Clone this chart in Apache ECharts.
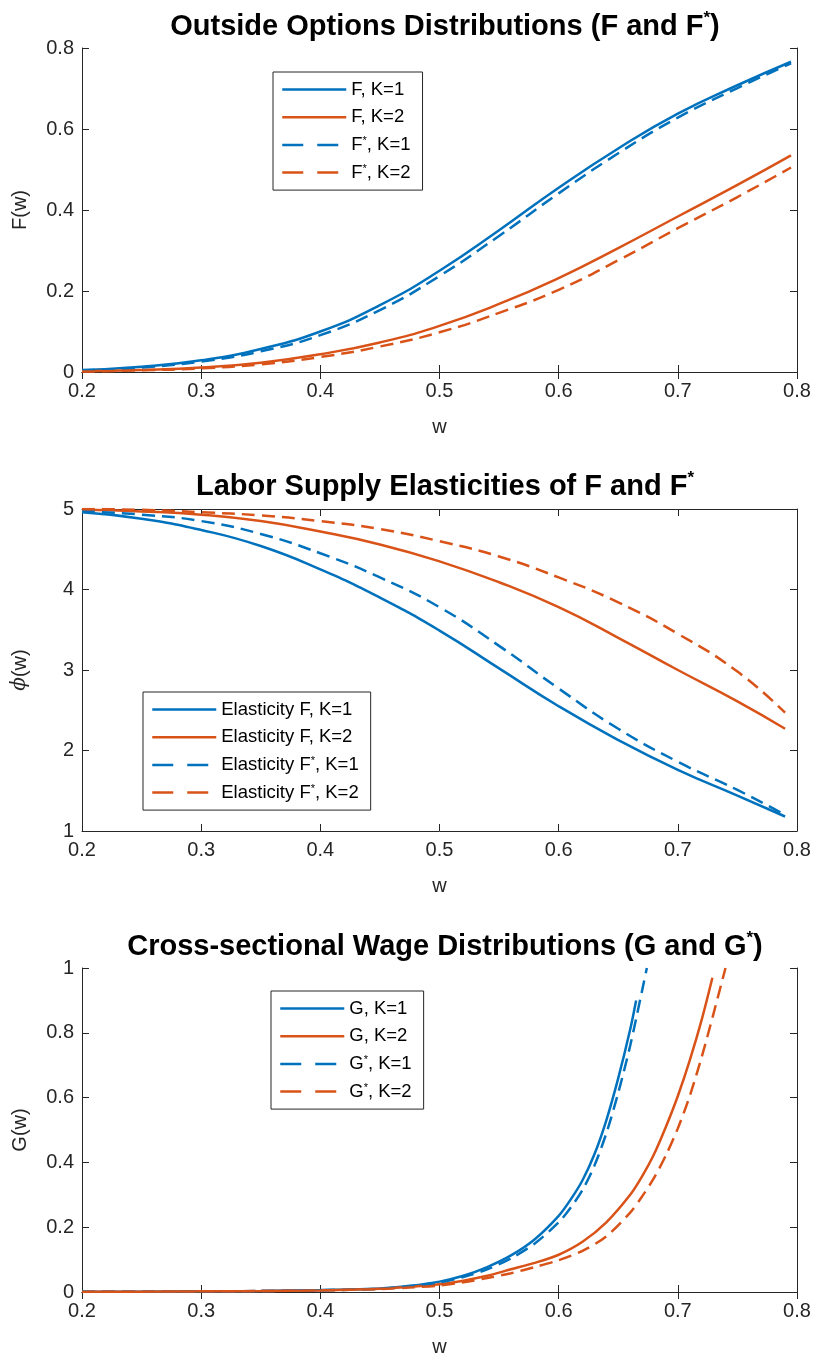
<!DOCTYPE html>
<html><head><meta charset="utf-8">
<script src="https://cdn.jsdelivr.net/npm/echarts@6/dist/echarts.min.js"></script>
<style>html,body{margin:0;padding:0;background:#fff}#c{width:814px;height:1360px}</style>
</head><body><div id="c"></div>
<script>
// ---------- tick labels ----------
const xTickLabels = ['0.2','0.3','0.4','0.5','0.6','0.7','0.8'];
const y1TickLabels = ['0','0.2','0.4','0.6','0.8'];
const y2TickLabels = ['1','2','3','4','5'];
const y3TickLabels = ['0','0.2','0.4','0.6','0.8','1'];

// ---------- panel 1: outside options distributions ----------
const w1 = [0.2,0.25,0.3,0.35,0.4,0.45,0.5,0.55,0.6,0.65,0.7,0.75,0.795];
const F_K1     = [0.005,0.013,0.029,0.057,0.100,0.165,0.250,0.350,0.455,0.552,0.638,0.708,0.766];
const F_K2     = [0.002,0.005,0.011,0.023,0.044,0.073,0.114,0.168,0.232,0.306,0.384,0.462,0.535];
const Fs_K1    = [0.004,0.011,0.026,0.051,0.091,0.153,0.237,0.336,0.441,0.540,0.628,0.701,0.762];
const Fs_K2    = [0.001,0.004,0.009,0.019,0.037,0.063,0.098,0.146,0.203,0.276,0.355,0.432,0.505];

// ---------- panel 2: labor supply elasticities ----------
const w2 = [0.2,0.25,0.3,0.35,0.4,0.45,0.5,0.55,0.6,0.65,0.7,0.75,0.79];
const E_K1   = [4.96,4.88,4.74,4.54,4.25,3.90,3.49,3.02,2.55,2.13,1.76,1.44,1.18];
const E_K2   = [4.99,4.97,4.93,4.85,4.72,4.56,4.35,4.09,3.78,3.40,3.00,2.61,2.27];
const Es_K1  = [4.97,4.93,4.85,4.69,4.45,4.15,3.78,3.30,2.77,2.27,1.86,1.51,1.20];
const Es_K2  = [5.00,4.99,4.96,4.92,4.85,4.75,4.60,4.41,4.15,3.84,3.45,2.98,2.47];

// ---------- panel 3: cross-sectional wage distributions ----------
const wG_K1  = [0.2,0.25,0.3,0.35,0.4,0.45,0.475,0.5,0.52,0.54,0.56,0.58,0.6,0.61,0.62,0.63,0.64,0.65,0.66,0.665];
const G_K1   = [0.0005,0.001,0.002,0.003,0.006,0.011,0.019,0.032,0.05,0.077,0.113,0.163,0.235,0.285,0.345,0.425,0.53,0.66,0.81,0.9];
const wGs_K1 = [0.2,0.25,0.3,0.35,0.4,0.45,0.475,0.5,0.52,0.54,0.56,0.58,0.6,0.61,0.62,0.63,0.64,0.65,0.66,0.67,0.674];
const Gs_K1  = [0.0004,0.001,0.002,0.003,0.005,0.010,0.017,0.030,0.046,0.070,0.104,0.150,0.215,0.26,0.315,0.39,0.49,0.615,0.76,0.93,1.0];
const wG_K2  = [0.2,0.25,0.3,0.35,0.4,0.45,0.475,0.5,0.52,0.54,0.56,0.58,0.6,0.62,0.64,0.66,0.67,0.68,0.69,0.7,0.71,0.72,0.729];
const G_K2   = [0.0004,0.001,0.002,0.003,0.005,0.010,0.016,0.024,0.035,0.050,0.070,0.090,0.115,0.155,0.215,0.30,0.357,0.425,0.51,0.605,0.715,0.84,0.97];
const wGs_K2 = [0.2,0.25,0.3,0.35,0.4,0.45,0.475,0.5,0.52,0.54,0.56,0.58,0.6,0.62,0.64,0.66,0.67,0.68,0.69,0.7,0.71,0.72,0.73,0.74];
const Gs_K2  = [0.0003,0.001,0.002,0.003,0.005,0.009,0.014,0.020,0.030,0.043,0.058,0.077,0.098,0.127,0.172,0.245,0.295,0.352,0.422,0.505,0.605,0.725,0.86,1.0];

// ---------- styling ----------
const BLUE = '#0072BD', ORANGE = '#D95319', AX = '#262626';
const FONT = 'Liberation Sans';
const grids = [
  {left: 82, right: 17, top: 48, height: 324},
  {left: 82, right: 17, top: 509, height: 322},
  {left: 82, right: 17, top: 968, height: 324}
];
const yRanges = [
  {min: 0, max: 0.8, interval: 0.2, labels: y1TickLabels, name: 'F(w)'},
  {min: 1, max: 5, interval: 1, labels: y2TickLabels, name: '{i|ϕ}(w)'},
  {min: 0, max: 1, interval: 0.2, labels: y3TickLabels, name: 'G(w)'}
];
const axLine = {show: true, lineStyle: {color: AX, width: 1}};
const tick = {show: true, inside: true, length: 7, lineStyle: {color: AX, width: 1}};
const xAxes = [], yAxes = [];
grids.forEach((g, i) => {
  xAxes.push({type: 'value', gridIndex: i, min: 0.2, max: 0.8, interval: 0.1, position: 'bottom',
    axisLine: axLine, axisTick: tick, splitLine: {show: false},
    axisLabel: {color: AX, fontSize: 20, fontFamily: FONT, margin: 9,
      formatter: v => xTickLabels[Math.round((v - 0.2) / 0.1)]},
    name: 'w', nameLocation: 'middle', nameGap: 45,
    nameTextStyle: {color: AX, fontSize: 20, fontFamily: FONT}});
  xAxes.push({type: 'value', gridIndex: i, min: 0.2, max: 0.8, interval: 0.1, position: 'top',
    axisLine: axLine, axisTick: tick, splitLine: {show: false}, axisLabel: {show: false}});
  const r = yRanges[i];
  yAxes.push({type: 'value', gridIndex: i, min: r.min, max: r.max, interval: r.interval, position: 'left',
    axisLine: axLine, axisTick: tick, splitLine: {show: false},
    axisLabel: {color: AX, fontSize: 20, fontFamily: FONT, margin: 8,
      formatter: v => r.labels[Math.round((v - r.min) / r.interval)]},
    name: r.name, nameLocation: 'middle', nameGap: 52, nameRotate: 90,
    nameTextStyle: {color: AX, fontSize: 20, fontFamily: FONT,
      rich: {i: {fontStyle: 'italic', fontSize: 20, fontFamily: 'DejaVu Serif', color: AX}}}});
  yAxes.push({type: 'value', gridIndex: i, min: r.min, max: r.max, interval: r.interval, position: 'right',
    axisLine: axLine, axisTick: tick, splitLine: {show: false}, axisLabel: {show: false}});
});

function mk(name, xs, ys, color, dashed, gi) {
  return {type: 'line', name, xAxisIndex: gi * 2, yAxisIndex: gi * 2, symbol: 'none',
    smooth: gi === 2 ? 0.3 : 0.5,
    data: xs.map((x, k) => [x, ys[k]]), clip: true,
    lineStyle: {color, width: 2.5, type: dashed ? [13, 7] : 'solid', cap: 'butt'},
    itemStyle: {color}, emphasis: {disabled: true}, z: 3};
}
const series = [
  mk('F, K=1', w1, F_K1, BLUE, false, 0),
  mk('F, K=2', w1, F_K2, ORANGE, false, 0),
  mk('F*, K=1', w1, Fs_K1, BLUE, true, 0),
  mk('F*, K=2', w1, Fs_K2, ORANGE, true, 0),
  mk('Elasticity F, K=1', w2, E_K1, BLUE, false, 1),
  mk('Elasticity F, K=2', w2, E_K2, ORANGE, false, 1),
  mk('Elasticity F*, K=1', w2, Es_K1, BLUE, true, 1),
  mk('Elasticity F*, K=2', w2, Es_K2, ORANGE, true, 1),
  mk('G, K=1', wG_K1, G_K1, BLUE, false, 2),
  mk('G, K=2', wG_K2, G_K2, ORANGE, false, 2),
  mk('G*, K=1', wGs_K1, Gs_K1, BLUE, true, 2),
  mk('G*, K=2', wGs_K2, Gs_K2, ORANGE, true, 2)
];

function legendCfg(names, left, top) {
  return {
    data: names.map(n => ({name: n, itemStyle: {opacity: 0},
      lineStyle: n.indexOf('*') >= 0 ? {type: [21, 14], width: 2.5} : {width: 2.5}})),
    left, top, orient: 'vertical', itemWidth: 64, itemHeight: 14, itemGap: 8.7,
    padding: [8, 12, 8, 8], borderColor: AX, borderWidth: 1, backgroundColor: '#fff',
    selectedMode: false,
    formatter: n => n.replace('*', '{s|*}'),
    textStyle: {color: '#000', fontSize: 18.5, fontFamily: FONT, lineHeight: 18,
      rich: {s: {fontSize: 11, fontFamily: FONT, color: '#000', verticalAlign: 'top', lineHeight: 18}}}
  };
}
const titleRich = {s: {fontSize: 17, fontWeight: 'bold', fontFamily: FONT, color: '#000', verticalAlign: 'top', lineHeight: 34}};
function titleCfg(text, top) {
  return {text, left: 440, textAlign: 'center', top,
    textStyle: {color: '#000', fontSize: 29, fontWeight: 'bold', fontFamily: FONT, lineHeight: 34, rich: titleRich}};
}

const chart = echarts.init(document.getElementById('c'), null, {renderer: 'canvas'});
chart.setOption({
  animation: false,
  backgroundColor: '#fff',
  title: [
    titleCfg('Outside Options Distributions (F and F{s|*})', 5),
    titleCfg('Labor Supply Elasticities of F and F{s|*}', 465),
    titleCfg('Cross-sectional Wage Distributions (G and G{s|*})', 925)
  ],
  grid: grids,
  xAxis: xAxes,
  yAxis: yAxes,
  legend: [
    legendCfg(['F, K=1','F, K=2','F*, K=1','F*, K=2'], 273, 72),
    legendCfg(['Elasticity F, K=1','Elasticity F, K=2','Elasticity F*, K=1','Elasticity F*, K=2'], 143, 692),
    legendCfg(['G, K=1','G, K=2','G*, K=1','G*, K=2'], 271, 991)
  ],
  series
});
</script></body></html>
